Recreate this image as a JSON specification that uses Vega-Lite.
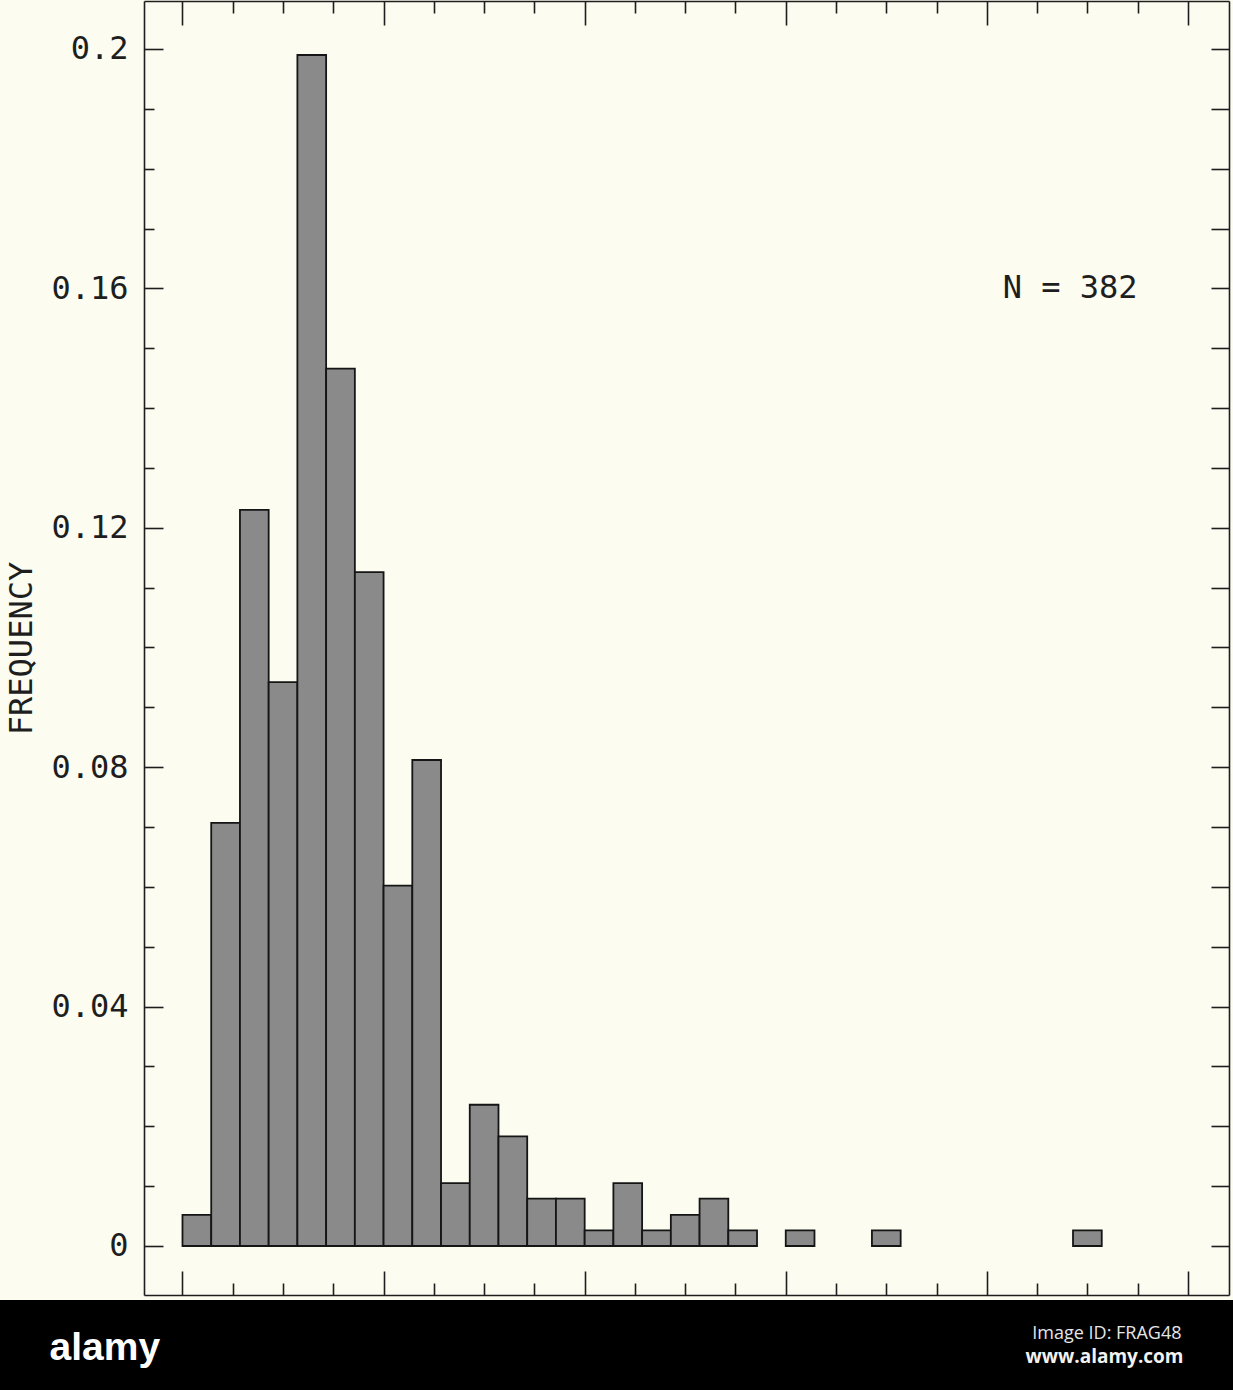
{
  "$schema": "https://vega.github.io/schema/vega-lite/v6.json",
  "background": "#000000",
  "autosize": {"type": "none"},
  "padding": {"left": 0, "top": 0, "right": 0, "bottom": 90},
  "width": 1233,
  "height": 1300,
  "view": {"stroke": null, "fill": "#fcfcf1"},
  "config": {
    "axis": {"grid": false, "domain": false, "labels": false, "title": null, "tickColor": "#1e1e1e", "tickWidth": 1.6,
      "domainColor": "#1e1e1e", "domainWidth": 1.6}
  },
  "layer": [
    {
      "data": {"values": [
        {"bin_start": 0, "bin_end": 1, "frequency": 0.0052},
        {"bin_start": 1, "bin_end": 2, "frequency": 0.0707},
        {"bin_start": 2, "bin_end": 3, "frequency": 0.1230},
        {"bin_start": 3, "bin_end": 4, "frequency": 0.0942},
        {"bin_start": 4, "bin_end": 5, "frequency": 0.1990},
        {"bin_start": 5, "bin_end": 6, "frequency": 0.1466},
        {"bin_start": 6, "bin_end": 7, "frequency": 0.1126},
        {"bin_start": 7, "bin_end": 8, "frequency": 0.0602},
        {"bin_start": 8, "bin_end": 9, "frequency": 0.0812},
        {"bin_start": 9, "bin_end": 10, "frequency": 0.0105},
        {"bin_start": 10, "bin_end": 11, "frequency": 0.0236},
        {"bin_start": 11, "bin_end": 12, "frequency": 0.0183},
        {"bin_start": 12, "bin_end": 13, "frequency": 0.0079},
        {"bin_start": 13, "bin_end": 14, "frequency": 0.0079},
        {"bin_start": 14, "bin_end": 15, "frequency": 0.0026},
        {"bin_start": 15, "bin_end": 16, "frequency": 0.0105},
        {"bin_start": 16, "bin_end": 17, "frequency": 0.0026},
        {"bin_start": 17, "bin_end": 18, "frequency": 0.0052},
        {"bin_start": 18, "bin_end": 19, "frequency": 0.0079},
        {"bin_start": 19, "bin_end": 20, "frequency": 0.0026},
        {"bin_start": 21, "bin_end": 22, "frequency": 0.0026},
        {"bin_start": 24, "bin_end": 25, "frequency": 0.0026},
        {"bin_start": 31, "bin_end": 32, "frequency": 0.0026}
      ]},
      "mark": {"type": "rect", "fill": "#8a8a8a", "stroke": "#151515", "strokeWidth": 1.8},
      "encoding": {
        "x": {"field": "bin_start", "type": "quantitative",
          "scale": {"domain": [-1.34, 36.43], "range": [144, 1229], "nice": false, "zero": false},
          "axis": {"orient": "bottom", "offset": -5, "domain": true, "values": [0, 7, 14, 21, 28, 35], "tickSize": -24,
            "title": "www.alamy.com", "titleColor": "#f2f2f2", "titleFont": "Open Sans", "titleFontSize": 19,
            "titleFontWeight": "bold", "titleAlign": "right", "titleBaseline": "alphabetic", "titleAngle": 0,
            "titleX": 1183, "titleY": 67}},
        "x2": {"field": "bin_end"},
        "y": {"field": "frequency", "type": "quantitative",
          "scale": {"domain": [-0.00819, 0.20802], "range": [1295, 1], "nice": false, "zero": false},
          "axis": {"orient": "left", "offset": -144, "domain": true, "values": [0, 0.04, 0.08, 0.12, 0.16, 0.2], "ticks": false,
            "labels": true, "format": "~g", "labelFont": "DejaVu Sans Mono", "labelFontSize": 32,
            "labelColor": "#1e1e1e", "labelPadding": 16,
            "title": "FREQUENCY", "titleFont": "DejaVu Sans Mono", "titleFontSize": 32,
            "titleFontWeight": "normal", "titleColor": "#1e1e1e", "titlePadding": 12}},
        "y2": {"datum": 0}
      }
    },
    {
      "mark": {"type": "rule", "color": "#1e1e1e", "strokeWidth": 1.6},
      "encoding": {
        "x": {"datum": 0, "type": "quantitative",
          "scale": {"domain": [-1.34, 36.43], "range": [144, 1229], "nice": false, "zero": false},
          "axis": {"orient": "bottom", "offset": -5, "values": [1.75, 3.5, 5.25, 8.75, 10.5, 12.25, 15.75, 17.5, 19.25, 22.75, 24.5, 26.25, 29.75, 31.5, 33.25], "tickSize": -12,
            "title": "alamy", "titleColor": "#ffffff", "titleFont": "Liberation Sans", "titleFontSize": 39,
            "titleFontWeight": "bold", "titleAlign": "left", "titleBaseline": "alphabetic", "titleAngle": 0,
            "titleX": 49, "titleY": 64}},
        "x2": {"datum": 35},
        "y": {"datum": 0, "type": "quantitative",
          "scale": {"domain": [-0.00819, 0.20802], "range": [1295, 1], "nice": false, "zero": false},
          "axis": {"orient": "left", "offset": -144, "values": [0, 0.04, 0.08, 0.12, 0.16, 0.2], "tickSize": -19}}
      }
    },
    {
      "data": {"values": [{"label": "N = 382"}]},
      "mark": {"type": "text", "font": "DejaVu Sans Mono", "fontSize": 32, "color": "#1e1e1e", "align": "center", "baseline": "middle"},
      "encoding": {
        "x": {"datum": 30.9, "type": "quantitative",
          "scale": {"domain": [-1.34, 36.43], "range": [144, 1229], "nice": false, "zero": false},
          "axis": {"orient": "top", "offset": -1, "domain": true, "values": [0, 7, 14, 21, 28, 35], "tickSize": -24,
            "title": "Image ID: FRAG48", "titleColor": "#e6e6e6", "titleFont": "Open Sans", "titleFontSize": 18,
            "titleFontWeight": "normal", "titleAlign": "right", "titleBaseline": "alphabetic", "titleAngle": 0,
            "titleX": 1181, "titleY": 1337}},
        "y": {"datum": 0.16, "type": "quantitative",
          "scale": {"domain": [-0.00819, 0.20802], "range": [1295, 1], "nice": false, "zero": false},
          "axis": {"orient": "left", "offset": -144, "values": [0.01, 0.02, 0.03, 0.05, 0.06, 0.07, 0.09, 0.1, 0.11, 0.13, 0.14, 0.15, 0.17, 0.18, 0.19], "tickSize": -10}},
        "text": {"field": "label"}
      }
    },
    {
      "mark": {"type": "point", "opacity": 0},
      "encoding": {
        "x": {"datum": 0, "type": "quantitative",
          "scale": {"domain": [-1.34, 36.43], "range": [144, 1229], "nice": false, "zero": false},
          "axis": {"orient": "top", "offset": -1, "values": [1.75, 3.5, 5.25, 8.75, 10.5, 12.25, 15.75, 17.5, 19.25, 22.75, 24.5, 26.25, 29.75, 31.5, 33.25], "tickSize": -12}},
        "y": {"datum": 0, "type": "quantitative",
          "scale": {"domain": [-0.00819, 0.20802], "range": [1295, 1], "nice": false, "zero": false},
          "axis": {"orient": "right", "offset": -4, "domain": true, "values": [0, 0.01, 0.02, 0.03, 0.04, 0.05, 0.06, 0.07, 0.08, 0.09, 0.1, 0.11, 0.12, 0.13, 0.14, 0.15, 0.16, 0.17, 0.18, 0.19, 0.2], "tickSize": -18}}
      }
    }
  ],
  "resolve": {"axis": {"x": "independent", "y": "independent"}}
}
